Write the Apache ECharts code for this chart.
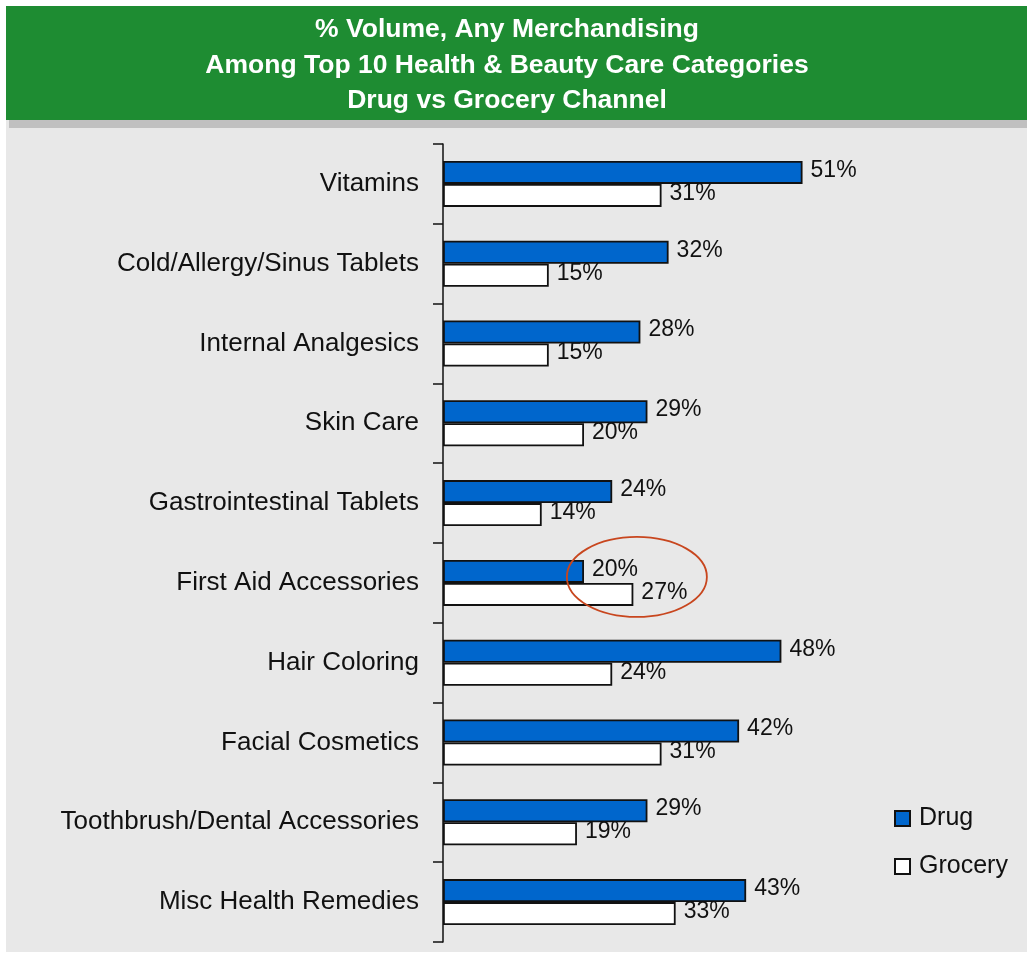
<!DOCTYPE html>
<html>
<head>
<meta charset="utf-8">
<style>
  html, body { margin: 0; padding: 0; background: #ffffff; }
  #chart { width: 1027px; height: 953px; }
</style>
<script src="https://cdn.jsdelivr.net/npm/echarts@6/dist/echarts.min.js"></script>
</head>
<body>
<div id="chart"></div>
<script>
// Category names, top to bottom
const categories = [
  'Vitamins',
  'Cold/Allergy/Sinus Tablets',
  'Internal Analgesics',
  'Skin Care',
  'Gastrointestinal Tablets',
  'First Aid Accessories',
  'Hair Coloring',
  'Facial Cosmetics',
  'Toothbrush/Dental Accessories',
  'Misc Health Remedies'
];
// % volume sold on any merchandising
const drugValues = [51, 32, 28, 29, 24, 20, 48, 42, 29, 43];
const groceryValues = [31, 15, 15, 20, 14, 27, 24, 31, 19, 33];
const titleLines = [
  '% Volume, Any Merchandising',
  'Among Top 10 Health & Beauty Care Categories',
  'Drug vs Grocery Channel'
];
const highlightCategory = 'First Aid Accessories';

const FONT = '"Liberation Sans", Arial, sans-serif';

const chart = echarts.init(document.getElementById('chart'), null, { renderer: 'canvas' });

const labelStyle = {
  show: true,
  position: 'right',
  distance: 8,
  offset: [0, -2],
  formatter: '{c}%',
  fontFamily: FONT,
  fontSize: 23,
  color: '#111111'
};

// Backdrop panels and the header title
function baseGraphics() {
  return [
    { type: 'rect', z: -10, silent: true, shape: { x: 6, y: 120, width: 1021, height: 832 }, style: { fill: '#e8e8e8' } },
    { type: 'rect', z: -9, silent: true, shape: { x: 6, y: 6, width: 1021, height: 114 }, style: { fill: '#1e8c32' } },
    { type: 'rect', z: -9, silent: true, shape: { x: 9, y: 120, width: 1018, height: 8 }, style: { fill: '#c0c0c0' } },
    {
      type: 'text', z: 5, silent: true,
      style: {
        x: 507, y: 12,
        text: titleLines.join('\n'),
        textAlign: 'center',
        textVerticalAlign: 'top',
        fill: '#ffffff',
        font: 'bold 26.5px ' + FONT,
        lineHeight: 35.5
      }
    }
  ];
}

chart.setOption({
  animation: false,
  backgroundColor: '#ffffff',
  graphic: baseGraphics(),
  legend: {
    orient: 'vertical',
    left: 894,
    top: 806,
    padding: 0,
    itemWidth: 15,
    itemHeight: 15,
    itemGap: 23,
    icon: 'rect',
    textStyle: { fontFamily: FONT, fontSize: 25, color: '#111111', padding: [0, 0, 0, 4], lineHeight: 25 },
    data: ['Drug', 'Grocery']
  },
  grid: { left: 443, top: 144, width: 423, height: 798, containLabel: false },
  xAxis: {
    type: 'value',
    min: 0,
    max: 60,
    show: false,
    splitLine: { show: false }
  },
  yAxis: {
    type: 'category',
    inverse: true,
    data: categories,
    axisLine: { show: true, lineStyle: { color: '#111111', width: 1.5 } },
    axisTick: { show: true, inside: false, length: 10, lineStyle: { color: '#111111', width: 1.5 } },
    axisLabel: { fontFamily: FONT, fontSize: 26, color: '#111111', margin: 24 }
  },
  series: [
    {
      name: 'Drug',
      type: 'bar',
      data: drugValues,
      barWidth: 23,
      barGap: '0%',
      itemStyle: { color: '#0066cc', borderColor: '#111111', borderWidth: 1.8 },
      label: labelStyle
    },
    {
      name: 'Grocery',
      type: 'bar',
      data: groceryValues,
      barWidth: 23,
      barGap: '0%',
      itemStyle: { color: '#ffffff', borderColor: '#111111', borderWidth: 1.8 },
      label: labelStyle
    }
  ]
});

// Callout ellipse around the one category where grocery beats drug
const idx = categories.indexOf(highlightCategory);
const center = chart.convertToPixel({ gridIndex: 0 }, [
  (drugValues[idx] + groceryValues[idx]) / 2 + 4,
  categories[idx]
]);
chart.setOption({
  graphic: baseGraphics().concat([
    {
      type: 'ellipse', z: 20, silent: true,
      shape: { cx: center[0], cy: center[1] - 6, rx: 70, ry: 40 },
      style: { fill: 'none', stroke: '#c8461e', lineWidth: 1.8 }
    }
  ])
}, { replaceMerge: ['graphic'] });
</script>
</body>
</html>
